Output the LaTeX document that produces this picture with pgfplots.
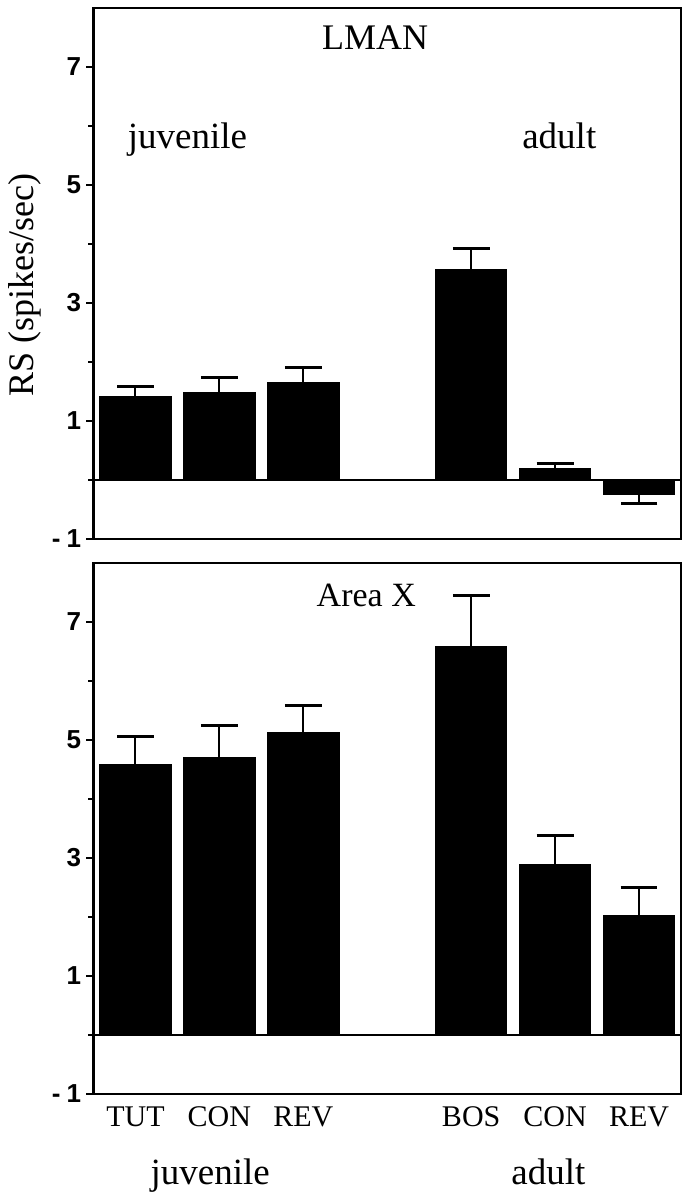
\documentclass[border=0pt]{standalone}
\usepackage{fontspec}
\setmainfont{Liberation Serif}
\newfontfamily\sansf{Liberation Sans}
\usepackage{pgfplots}
\pgfplotsset{compat=1.18}
\newcommand{\tl}[1]{\mbox{\sansf\bfseries\fontsize{13}{13}\selectfont #1}}
\begin{document}
\begin{tikzpicture}
\pgfplotsset{
  panel/.style={
    scale only axis,
    width=293.75pt, height=265.5pt,
    anchor=south west,
    xmin=-0.5, xmax=6.5, ymin=-1, ymax=8,
    axis line style={line width=1.3pt},
    tick align=outside, tick pos=left,
    major tick length=3.5pt, minor tick length=2.5pt,
    every tick/.style={black, line width=1.1pt},
    xtick=\empty,
    minor xtick={0.5,1.5,2.5,3.5,4.5,5.5},
    ytick={-1,1,3,5,7},
    yticklabels={{\tl{-\hspace{3pt}1}},{\tl{1}},{\tl{3}},{\tl{5}},{\tl{7}}},
    minor ytick={0,2,4,6},
    yticklabel style={font=\sansf\fontsize{13}{13}\selectfont, inner sep=2.5pt},
    ybar, bar width=0.85, bar shift=0pt,
    clip=false,
  },
  bars/.style={fill=black, draw=black, line width=0.4pt,
    error bars/y explicit,
    error bars/error mark=|,
    error bars/error bar style={line width=1pt, black},
    error bars/error mark options={black, line width=1.5pt, mark size=9.2pt}},
}
% ---------- top panel: LMAN ----------
\begin{axis}[panel, at={(46.75pt,330pt)},
  ylabel={RS (spikes/sec)},
  ylabel style={at={(axis description cs:-0.117,0.478)}, anchor=center, font=\fontsize{18}{18}\selectfont},
]
\addplot[sharp plot, line width=0.9pt, black, forget plot] coordinates {(-0.5,0) (6.5,0)};
\addplot[bars, error bars/y dir=plus] coordinates {
  (0,1.41) +- (0,0.17)
  (1,1.49) +- (0,0.25)
  (2,1.65) +- (0,0.26)
  (4,3.57) +- (0,0.36)
  (5,0.19) +- (0,0.09)
};
\addplot[bars, error bars/y dir=minus] coordinates {
  (6,-0.25) +- (0,0.14)
};
\node[font=\fontsize{18}{18}\selectfont, anchor=base] at (axis cs:2.855,7.30) {LMAN};
\node[font=\fontsize{18.5}{18}\selectfont, anchor=base] at (axis cs:0.62,5.61) {juvenile};
\node[font=\fontsize{18.5}{18}\selectfont, anchor=base] at (axis cs:5.05,5.61) {adult};
\end{axis}
% ---------- bottom panel: Area X ----------
\begin{axis}[panel, at={(46.75pt,52.5pt)},
  extra x ticks={0,1,2,4,5,6},
  extra x tick labels={TUT,CON,REV,BOS,CON,REV},
  extra x tick style={major tick length=0pt, tick label style={font=\fontsize{15}{15}\selectfont, yshift=-3pt}},
]
\addplot[sharp plot, line width=0.9pt, black, forget plot] coordinates {(-0.5,0) (6.5,0)};
\addplot[bars, error bars/y dir=plus] coordinates {
  (0,4.59) +- (0,0.47)
  (1,4.71) +- (0,0.53)
  (2,5.13) +- (0,0.46)
  (4,6.58) +- (0,0.87)
  (5,2.89) +- (0,0.49)
  (6,2.03) +- (0,0.47)
};
\node[font=\fontsize{17}{17}\selectfont, anchor=base] at (axis cs:2.75,7.27) {Area X};
\node[font=\fontsize{18.5}{18}\selectfont, anchor=base] at (axis cs:0.89,-2.54) {juvenile};
\node[font=\fontsize{18.5}{18}\selectfont, anchor=base] at (axis cs:4.92,-2.54) {adult};
\end{axis}
\pgfresetboundingbox
\path[use as bounding box] (0,0) rectangle (345.5pt,599.5pt);
\end{tikzpicture}
\end{document}
